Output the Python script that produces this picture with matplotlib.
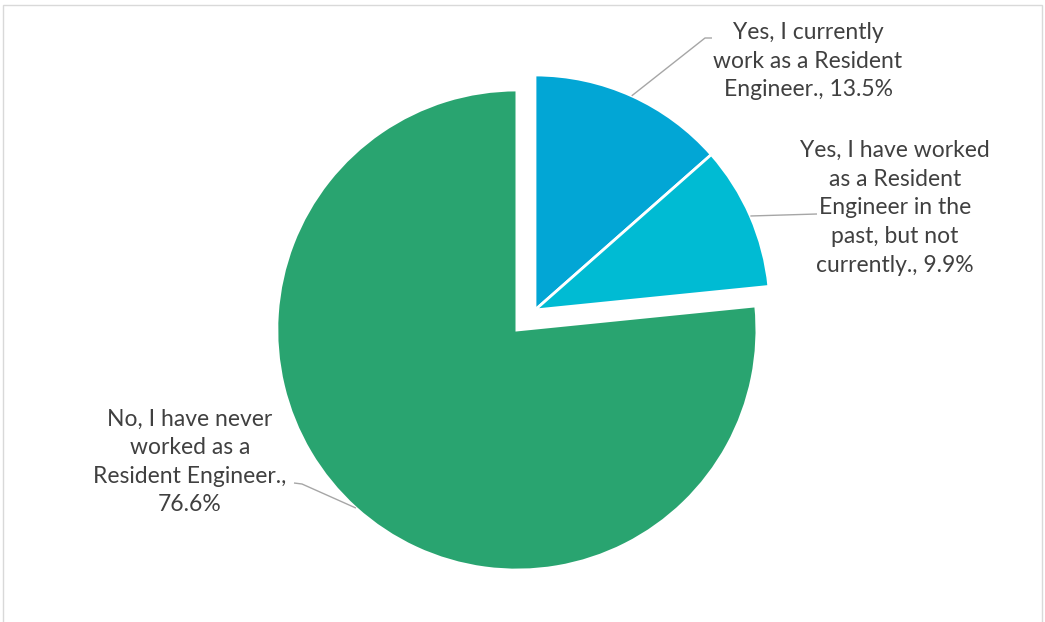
import numpy as np
import matplotlib
matplotlib.use("Agg")
import matplotlib.pyplot as plt
from matplotlib.patches import Rectangle

labels = ["Yes, I currently\nwork as a Resident\nEngineer., 13.5%",
          "Yes, I have worked\nas a Resident\nEngineer in the\npast, but not\ncurrently., 9.9%",
          "No, I have never\nworked as a\nResident Engineer.,\n76.6%"]
values = [13.5, 9.9, 76.6]
colors = ["#02A6D5", "#00BBD3", "#29A470"]

W, H = 1045, 622
fig = plt.figure(figsize=(W / 100, H / 100), dpi=100)
ax = fig.add_axes([0, 0, 1, 1])

# pixel-space layout, y measured upward
center = (535, 312)
radius = 235
explode = [0, 0, 27]  # pie() offsets in data units

wedges, _ = ax.pie(values, colors=colors, explode=explode, startangle=90,
                   counterclock=False, center=center, radius=radius,
                   wedgeprops=dict(edgecolor="white", linewidth=2.0),
                   frame=True)
wedges[2].set_radius(240)
ax.set_xlim(0, W)
ax.set_ylim(0, H)
ax.set_aspect("equal")
ax.axis("off")

# label text positions and leader elbows
text_pos = [(808, 561), (895, 414), (190, 160)]
elbows = [[(705, 584), (712, 584)],
          [(817, 408)],
          [(302, 138), (294, 139)]]

for w, lab, tp, el in zip(wedges, labels, text_pos, elbows):
    mid = np.deg2rad((w.theta1 + w.theta2) / 2)
    cx, cy = w.center
    px = cx + w.r * np.cos(mid)
    py = cy + w.r * np.sin(mid)
    xs = [px] + [e[0] for e in el]
    ys = [py] + [e[1] for e in el]
    ax.plot(xs, ys, color="#A6A6A6", lw=1.0, solid_capstyle="butt")
    ax.text(tp[0], tp[1], lab, ha="center", va="center", multialignment="center",
            fontsize=16.5, family="Lato", color="#404040", linespacing=1.45)

fig.patches.append(Rectangle((3 / W, -0.1), (W - 6) / W, 1.1 - 5 / H,
                             transform=fig.transFigure, fill=False,
                             edgecolor="#D9D9D9", lw=1.0))

fig.savefig("out.png", dpi=100)
